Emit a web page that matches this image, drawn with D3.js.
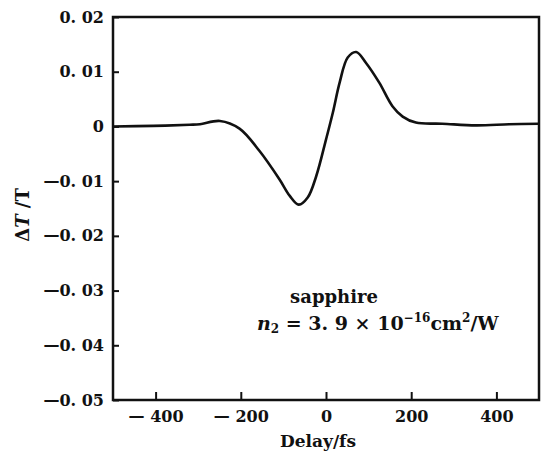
<!DOCTYPE html>
<html>
<head>
<meta charset="utf-8">
<script src="https://d3js.org/d3.v7.min.js"></script>
<style>
body { margin: 0; background: #fff; }
text { font-family: "DejaVu Serif", serif; font-weight: bold; fill: #111; }
</style>
</head>
<body>
<script>
var delay = [-500, -406, -320, -296, -249, -203, -156, -109, -85, -64, -43, -23, 0, 16, 32, 51, 71, 94, 125, 156, 180, 211, 273, 352, 430, 500];
var dT    = [0, 0.0001, 0.0003, 0.0004, 0.001, -0.0004, -0.0045, -0.0097, -0.0127, -0.0143, -0.013, -0.0091, -0.0024, 0.0025, 0.008, 0.0126, 0.0136, 0.0116, 0.008, 0.0037, 0.0018, 0.0007, 0.0005, 0.0002, 0.0004, 0.0005];
var xTicks = [-400, -200, 0, 200, 400];
var yTicks = [0.02, 0.01, 0, -0.01, -0.02, -0.03, -0.04, -0.05];

var width = 541, height = 452,
    margin = { top: 17, right: 2, bottom: 52, left: 113 };

var svg = d3.select("body").append("svg")
    .attr("width", width)
    .attr("height", height);

var x = d3.scaleLinear().domain([-500, 500]).range([margin.left, width - margin.right]);
var y = d3.scaleLinear().domain([-0.05, 0.02]).range([height - margin.bottom, margin.top]);

function yFmt(d) {
    if (Math.abs(d) < 1e-9) return "0";
    return (d < 0 ? "\u2014" : "") + Math.abs(d).toFixed(2).replace(".", ". ");
}
function xFmt(d) {
    return d < 0 ? "\u2014 " + Math.abs(d) : d;
}

// left axis, ticks pointing inward
var ya = svg.append("g")
    .attr("transform", "translate(" + margin.left + ",0)")
    .call(d3.axisLeft(y).tickValues(yTicks).tickSize(-6).tickPadding(9).tickFormat(yFmt));
ya.select(".domain").remove();
ya.selectAll("line").attr("stroke", "#111").attr("stroke-width", 2);
ya.selectAll("text").attr("font-size", 16).attr("font-family", null).attr("fill", "#111");

// bottom axis
var xa = svg.append("g")
    .attr("transform", "translate(0," + (height - margin.bottom) + ")")
    .call(d3.axisBottom(x).tickValues(xTicks).tickSize(-8).tickPadding(11).tickFormat(xFmt));
xa.select(".domain").remove();
xa.selectAll("line").attr("stroke", "#111").attr("stroke-width", 2);
xa.selectAll("text").attr("font-size", 16).attr("font-family", null).attr("fill", "#111");

// frame
svg.append("rect")
    .attr("x", margin.left)
    .attr("y", margin.top)
    .attr("width", width - margin.right - margin.left)
    .attr("height", height - margin.bottom - margin.top)
    .attr("fill", "none")
    .attr("stroke", "#111")
    .attr("stroke-width", 2.5);

var line = d3.line()
    .x(function(d) { return x(d[0]); })
    .y(function(d) { return y(d[1]); })
    .curve(d3.curveCatmullRom.alpha(0.5));

svg.append("path")
    .datum(delay.map(function(d, i) { return [d, dT[i]]; }))
    .attr("d", line)
    .attr("fill", "none")
    .attr("stroke", "#111")
    .attr("stroke-width", 2.6)
    .attr("stroke-linejoin", "round");

// axis titles
svg.append("text")
    .attr("x", 318)
    .attr("y", 447)
    .attr("text-anchor", "middle")
    .attr("font-size", 17)
    .text("Delay/fs");

var yl = svg.append("text")
    .attr("transform", "translate(29,215) rotate(-90)")
    .attr("text-anchor", "middle")
    .attr("font-size", 18);
yl.append("tspan").text("\u0394");
yl.append("tspan").attr("font-style", "italic").text("T");
yl.append("tspan").text(" /T");

// annotation
svg.append("text")
    .attr("x", 334)
    .attr("y", 303)
    .attr("text-anchor", "middle")
    .attr("font-size", 18)
    .text("sapphire");

var ann = svg.append("text")
    .attr("x", 257)
    .attr("y", 330)
    .attr("font-size", 19);
ann.append("tspan").attr("font-style", "italic").text("n");
ann.append("tspan").attr("font-size", 12).attr("dy", 3).text("2");
ann.append("tspan").attr("dy", -3).text(" = 3. 9 \u00d7 10");
ann.append("tspan").attr("font-size", 12).attr("dy", -8).text("\u221216");
ann.append("tspan").attr("dy", 8).text("cm");
ann.append("tspan").attr("font-size", 12).attr("dy", -8).text("2");
ann.append("tspan").attr("dy", 8).text("/W");
</script>
</body>
</html>
